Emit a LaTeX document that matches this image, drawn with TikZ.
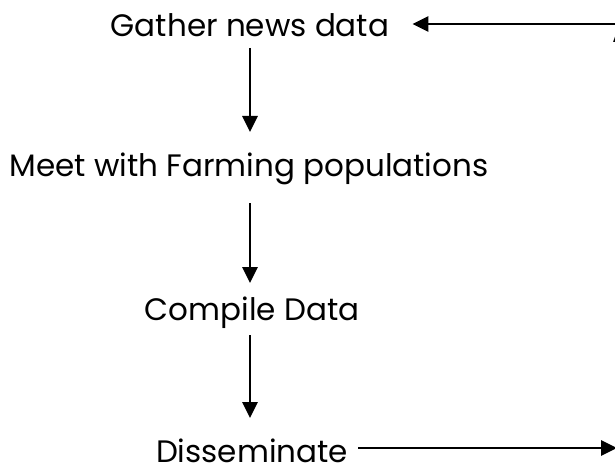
\documentclass[tikz,border=0pt]{standalone}
\usepackage{fontspec}
\setmainfont{Poppins}
\usetikzlibrary{arrows.meta}
\begin{document}
\begin{tikzpicture}[x=1pt,y=-1pt,
  lbl/.style={font=\fontsize{31}{36}\selectfont, inner sep=10pt, anchor=base},
  arr/.style={line width=2.8pt, -{Triangle[length=16pt,width=15pt]}}]
\useasboundingbox (0,0) rectangle (615,465);
\clip (0,0) rectangle (615,465);
\node[lbl] (gather) at (250,37) {Gather news data};
\node[lbl] (meet) at (249,177) {Meet with Farming populations};
\node[lbl] (compile) at (252,320) {Compile Data};
\node[lbl] (dissem) at (252,462) {Disseminate};
\node[lbl, anchor=base west, inner sep=0pt] (acut) at (612,43) {A};
\coordinate (axis) at (250,0);
\coordinate (topend) at (617,24);
\coordinate (botend) at (617,448);
\draw[arr] ([yshift=-11pt]gather.base -| axis) -- ([yshift=45pt]meet.base -| axis);
\draw[arr] ([yshift=-26pt]meet.base -| axis) -- ([yshift=37pt]compile.base -| axis);
\draw[arr] ([yshift=-15pt]compile.base -| axis) -- ([yshift=44pt]dissem.base -| axis);
\draw[arr] (topend) -- ([xshift=13pt,yshift=13pt]gather.base east);
\draw[arr] ([yshift=14pt]dissem.base east) -- (botend);
\end{tikzpicture}
\end{document}
